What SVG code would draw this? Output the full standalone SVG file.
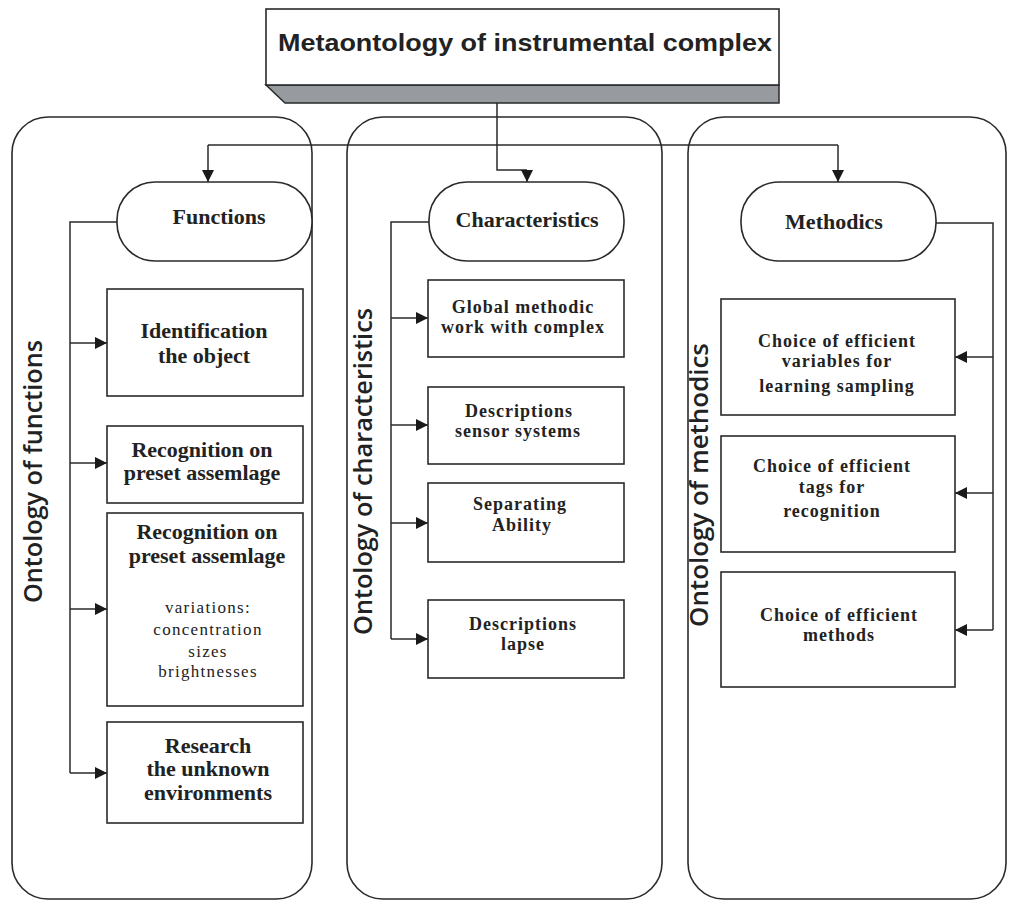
<svg xmlns="http://www.w3.org/2000/svg" width="1010" height="901" viewBox="0 0 1010 901">
<style>
  .cont{fill:none;stroke:#2a2a2a;stroke-width:1.6}
  .term{fill:#fff;stroke:#2a2a2a;stroke-width:1.6}
  .box{fill:#fff;stroke:#2a2a2a;stroke-width:1.6}
  .ln{fill:none;stroke:#2a2a2a;stroke-width:1.5}
  .arr{marker-end:url(#ah)}
  .ttl{font-family:"Liberation Sans",Arial,sans-serif;font-weight:bold;font-size:24px;fill:#222;text-anchor:middle}
  .side{font-family:"Open Sans","Liberation Sans",sans-serif;font-weight:600;font-size:26px;fill:#222;text-anchor:middle}
  .tt{font-family:"Liberation Serif","Times New Roman",serif;font-weight:bold;font-size:22px;fill:#222;text-anchor:middle}
  .bt{font-family:"Liberation Serif","Times New Roman",serif;font-weight:bold;font-size:22px;fill:#222;text-anchor:middle}
  .st{font-family:"Liberation Serif","Times New Roman",serif;font-weight:bold;font-size:18px;letter-spacing:1px;fill:#222;text-anchor:middle}
  .nt{font-family:"Liberation Serif","Times New Roman",serif;font-size:17px;letter-spacing:1.3px;fill:#222;text-anchor:middle}
</style>
<defs>
  <marker id="ah" markerUnits="userSpaceOnUse" markerWidth="12" markerHeight="12" refX="12" refY="6" orient="auto">
    <path d="M0,0 L12,6 L0,12 z" fill="#1a1a1a"/>
  </marker>
</defs>
<rect width="1010" height="901" fill="#fff"/>

<g id="container-functions">
  <rect class="cont" x="12" y="117" width="300" height="782" rx="36" ry="36"/>
  <text class="side" transform="translate(42,471.5) rotate(-90)" textLength="263" lengthAdjust="spacingAndGlyphs">Ontology of functions</text>
</g>
<g id="container-characteristics">
  <rect class="cont" x="347" y="117" width="315" height="782" rx="36" ry="36"/>
  <text class="side" transform="translate(372,471.5) rotate(-90)" textLength="327" lengthAdjust="spacingAndGlyphs">Ontology of characteristics</text>
</g>
<g id="container-methodics">
  <rect class="cont" x="688" y="117" width="318" height="782" rx="36" ry="36"/>
  <text class="side" transform="translate(708,485) rotate(-90)" textLength="284" lengthAdjust="spacingAndGlyphs">Ontology of methodics</text>
</g>

<g id="root">
  <polygon points="266,85 779,85 779,103 285,103" fill="#979b9f" stroke="#2a2a2a" stroke-width="1.5"/>
  <rect x="266" y="9" width="513" height="76" fill="#fff" stroke="#2a2a2a" stroke-width="1.6"/>
  <text class="ttl" x="525" y="51" textLength="494" lengthAdjust="spacingAndGlyphs">Metaontology of instrumental complex</text>
</g>

<g id="connectors">
  <path class="ln" d="M497,103 V170 H527"/>
  <path class="ln arr" d="M527,170 V182"/>
  <path class="ln" d="M208,145 H838"/>
  <path class="ln arr" d="M208,145 V182"/>
  <path class="ln arr" d="M838,145 V182"/>
  <path class="ln" d="M117,222 H70 V773"/>
  <path class="ln arr" d="M70,343 H107"/>
  <path class="ln arr" d="M70,463 H107"/>
  <path class="ln arr" d="M70,609 H107"/>
  <path class="ln arr" d="M70,773 H107"/>
  <path class="ln" d="M429,222 H391 V639"/>
  <path class="ln arr" d="M391,318 H428"/>
  <path class="ln arr" d="M391,425 H428"/>
  <path class="ln arr" d="M391,523 H428"/>
  <path class="ln arr" d="M391,639 H428"/>
  <path class="ln" d="M936,223 H993 V630"/>
  <path class="ln arr" d="M993,357 H955"/>
  <path class="ln arr" d="M993,493 H955"/>
  <path class="ln arr" d="M993,630 H955"/>
</g>

<g id="functions">
  <rect class="term" x="117" y="182" width="195" height="79" rx="38" ry="38"/>
  <text class="tt" x="219" y="224">Functions</text>
</g>
<g id="characteristics">
  <rect class="term" x="429" y="182" width="195" height="79" rx="38" ry="38"/>
  <text class="tt" x="527" y="227">Characteristics</text>
</g>
<g id="methodics">
  <rect class="term" x="741" y="182" width="195" height="79" rx="38" ry="38"/>
  <text class="tt" x="834" y="229">Methodics</text>
</g>

<g id="f1">
  <rect class="box" x="107" y="289" width="196" height="107"/>
  <text class="bt" x="204" y="338">Identification</text>
  <text class="bt" x="204" y="363">the object</text>
</g>
<g id="f2">
  <rect class="box" x="107" y="426" width="196" height="77"/>
  <text class="bt" x="202" y="457">Recognition on</text>
  <text class="bt" x="202" y="480">preset assemlage</text>
</g>
<g id="f3">
  <rect class="box" x="107" y="513" width="196" height="193"/>
  <text class="bt" x="207" y="539">Recognition on</text>
  <text class="bt" x="207" y="563">preset assemlage</text>
  <text class="nt" x="208" y="613">variations:</text>
  <text class="nt" x="208" y="635">concentration</text>
  <text class="nt" x="208" y="657">sizes</text>
  <text class="nt" x="208" y="677">brightnesses</text>
</g>
<g id="f4">
  <rect class="box" x="107" y="722" width="196" height="101"/>
  <text class="bt" x="208" y="753">Research</text>
  <text class="bt" x="208" y="776">the unknown</text>
  <text class="bt" x="208" y="800">environments</text>
</g>

<g id="c1">
  <rect class="box" x="428" y="280" width="196" height="77"/>
  <text class="st" x="523" y="313">Global methodic</text>
  <text class="st" x="523" y="333">work with complex</text>
</g>
<g id="c2">
  <rect class="box" x="428" y="387" width="196" height="77"/>
  <text class="st" x="519" y="417">Descriptions</text>
  <text class="st" x="518" y="437">sensor systems</text>
</g>
<g id="c3">
  <rect class="box" x="428" y="483" width="196" height="79"/>
  <text class="st" x="520" y="510">Separating</text>
  <text class="st" x="522" y="531">Ability</text>
</g>
<g id="c4">
  <rect class="box" x="428" y="600" width="196" height="78"/>
  <text class="st" x="523" y="630">Descriptions</text>
  <text class="st" x="523" y="650">lapse</text>
</g>

<g id="m1">
  <rect class="box" x="721" y="299" width="234" height="116"/>
  <text class="st" x="837" y="347">Choice of efficient</text>
  <text class="st" x="837" y="367">variables for</text>
  <text class="st" x="837" y="392">learning sampling</text>
</g>
<g id="m2">
  <rect class="box" x="721" y="436" width="234" height="116"/>
  <text class="st" x="832" y="472">Choice of efficient</text>
  <text class="st" x="832" y="493">tags for</text>
  <text class="st" x="832" y="517">recognition</text>
</g>
<g id="m3">
  <rect class="box" x="721" y="572" width="234" height="115"/>
  <text class="st" x="839" y="621">Choice of efficient</text>
  <text class="st" x="839" y="641">methods</text>
</g>
</svg>
